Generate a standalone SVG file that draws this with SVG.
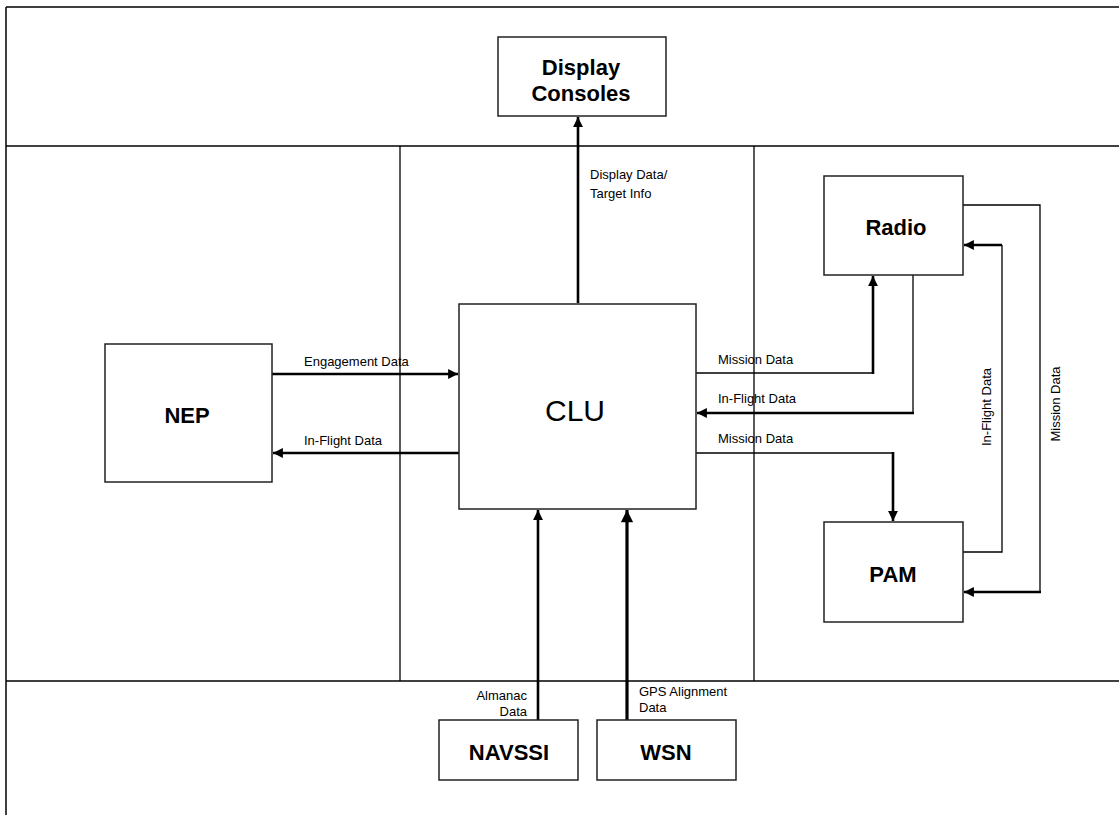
<svg xmlns="http://www.w3.org/2000/svg" width="1119" height="815" viewBox="0 0 1119 815">
<style>
.frame{stroke:#000;stroke-width:1.5;fill:none}
.box{fill:#fff;stroke:#222;stroke-width:1.5}
.thin{stroke:#000;stroke-width:1.3;fill:none}
.thick{stroke:#000;stroke-width:2.6;fill:none}
.title{font-family:"Liberation Sans",Arial,sans-serif;font-weight:bold;font-size:22px;fill:#000;text-anchor:middle}
.lbl{font-family:"Liberation Sans",Arial,sans-serif;font-size:13px;fill:#000}
</style>
<defs>
<marker id="ah" viewBox="0 0 10 10" refX="10" refY="5" markerWidth="4.4" markerHeight="3.8" markerUnits="strokeWidth" orient="auto">
<path d="M0,0 L10,5 L0,10 z" fill="#000"/>
</marker>
</defs>
<rect width="1119" height="815" fill="#fff"/>
<g id="frame">
<line class="frame" x1="6" y1="7" x2="1119" y2="7"/>
<line class="frame" x1="6" y1="7" x2="6" y2="815"/>
<line class="frame" x1="6" y1="146" x2="1119" y2="146"/>
<line class="frame" x1="6" y1="681" x2="1119" y2="681"/>
<line class="thin" x1="400" y1="146" x2="400" y2="681"/>
<line class="thin" x1="754" y1="146" x2="754" y2="681"/>
</g>
<g id="connectors">
<line class="thick" x1="578" y1="303" x2="578" y2="117" marker-end="url(#ah)"/>
<line class="thick" x1="272" y1="374" x2="458" y2="374" marker-end="url(#ah)"/>
<line class="thick" x1="459" y1="453" x2="273" y2="453" marker-end="url(#ah)"/>
<polyline class="thin" points="696,373 873,373"/>
<line class="thick" x1="873" y1="374" x2="873" y2="276" marker-end="url(#ah)"/>
<polyline class="thin" points="913,275 913,413"/>
<line class="thick" x1="914" y1="413" x2="697" y2="413" marker-end="url(#ah)"/>
<polyline class="thin" points="696,453 893,453"/>
<line class="thick" x1="893" y1="452" x2="893" y2="521" marker-end="url(#ah)"/>
<polyline class="thin" points="963,552 1002,552 1002,245"/>
<line class="thick" x1="1002" y1="245" x2="964" y2="245" marker-end="url(#ah)"/>
<polyline class="thin" points="963,205 1040,205 1040,592"/>
<line class="thick" x1="1041" y1="592" x2="964" y2="592" marker-end="url(#ah)"/>
<line class="thick" x1="538" y1="720" x2="538" y2="510" marker-end="url(#ah)"/>
<line class="thick" x1="627" y1="720" x2="627" y2="510" marker-end="url(#ah)" style="stroke-width:3.2"/>
<text class="lbl" x="590" y="179">Display Data/</text>
<text class="lbl" x="590" y="198">Target Info</text>
<text class="lbl" x="304" y="366">Engagement Data</text>
<text class="lbl" x="304" y="445">In-Flight Data</text>
<text class="lbl" x="718" y="364">Mission Data</text>
<text class="lbl" x="718" y="403">In-Flight Data</text>
<text class="lbl" x="718" y="443">Mission Data</text>
<text class="lbl" x="991" y="407" text-anchor="middle" transform="rotate(-90 991 407)">In-Flight Data</text>
<text class="lbl" x="1060" y="404" text-anchor="middle" transform="rotate(-90 1060 404)">Mission Data</text>
<text class="lbl" x="527" y="700" text-anchor="end">Almanac</text>
<text class="lbl" x="527" y="716" text-anchor="end">Data</text>
<text class="lbl" x="639" y="696">GPS Alignment</text>
<text class="lbl" x="639" y="712">Data</text>
</g>
<g id="display-consoles">
<rect class="box" x="498" y="37" width="168" height="79"/>
<text class="title" x="581" y="75">Display</text>
<text class="title" x="581" y="101">Consoles</text>
</g>
<g id="clu">
<rect class="box" x="459" y="304" width="237" height="205"/>
<text x="575" y="421" text-anchor="middle" font-family="Liberation Sans,Arial,sans-serif" font-size="30">CLU</text>
</g>
<g id="nep">
<rect class="box" x="105" y="344" width="167" height="138"/>
<text class="title" x="187" y="423">NEP</text>
</g>
<g id="radio">
<rect class="box" x="824" y="176" width="139" height="99"/>
<text class="title" x="896" y="235">Radio</text>
</g>
<g id="pam">
<rect class="box" x="824" y="522" width="139" height="100"/>
<text class="title" x="893" y="582">PAM</text>
</g>
<g id="navssi">
<rect class="box" x="439" y="720" width="139" height="60"/>
<text class="title" x="509" y="760">NAVSSI</text>
</g>
<g id="wsn">
<rect class="box" x="597" y="720" width="139" height="60"/>
<text class="title" x="666" y="760">WSN</text>
</g>
</svg>
